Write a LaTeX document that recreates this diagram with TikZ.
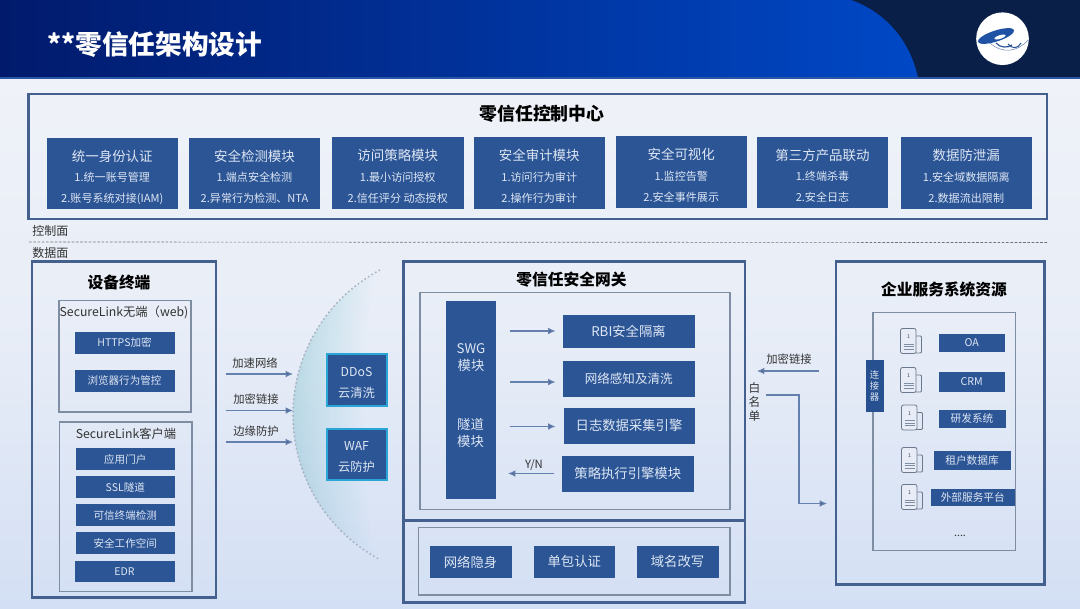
\documentclass[tikz,border=0pt]{standalone}
\usepackage{fontspec}
\setmainfont{Noto Sans CJK SC}
\usetikzlibrary{arrows.meta,calc}
\definecolor{bgtop}{HTML}{EFF2F8}
\definecolor{bgbot}{HTML}{D3DFF4}
\definecolor{boxblue}{HTML}{2C5596}
\definecolor{deepblue}{HTML}{26508F}
\definecolor{frame}{HTML}{44608F}
\definecolor{thin}{HTML}{7F8DA3}
\definecolor{txtw}{HTML}{DDE6F3}
\definecolor{arrowc}{HTML}{6480AE}
\definecolor{darknavy}{HTML}{0A1F48}
\definecolor{hleft}{HTML}{011A6C}
\definecolor{hright}{HTML}{0048C6}
\definecolor{cyanb}{HTML}{2AA6D6}
\definecolor{halo}{HTML}{9AD4E0}
\newcommand\fz[1]{\fontsize{#1}{#1}\selectfont}
\tikzset{
  rb/.style={draw=none,inner sep=0pt,outer sep=0pt,align=center},
  bluebox/.style={rb,fill=boxblue,text=txtw},
  cloudbox/.style={rb,fill=boxblue,text=txtw,draw=cyanb,line width=1.5pt},
  bigframe/.style={rb,fill=none,draw=frame,line width=1.6pt},
  thinframe/.style={rb,fill=none,draw=thin,line width=0.8pt},
  head/.style={font=\fz{11.8}\bfseries,text=black,inner sep=0pt},
  lbl/.style={font=\fz{8.5},text=black!80,inner sep=0pt,align=center},
  conn/.style={draw=arrowc,line width=0.8pt,-{Latex[length=5.5pt,width=5pt,fill=arrowc!85!black]}},
}
% \rbx[style]{name}{x1}{y1}{x2}{y2}{text}
\newcommand\rbx[7][]{%
  \pgfmathsetmacro\rw{(#5-#3)*0.75}\pgfmathsetmacro\rh{(#6-#4)*0.75}%
  \pgfmathsetmacro\rx{(#3+#5)/2}\pgfmathsetmacro\ry{(#4+#6)/2}%
  \node[#1,minimum width=\rw pt,minimum height=\rh pt] (#2) at (\rx,\ry) {#7};}
% three-line module box
\newcommand\modbox[8]{%
  \rbx[bluebox]{#1}{#2}{#3}{#4}{#5}{}
  \pgfmathsetmacro\rx{(#2+#4)/2}%
  \node[font=\fz{10.1},text=txtw,inner sep=0pt] (#1a) at (\rx,#3+18.5) {#6};
  \node[font=\fz{8.3},text=txtw,inner sep=0pt] (#1b) at (\rx,#3+40) {#7};
  \node[font=\fz{8.3},text=txtw,inner sep=0pt] (#1c) at (\rx,#3+61) {#8};}
\newcommand\docicon[3]{% name, left x, centre y
  \begin{scope}[shift={(#2,#3)},draw=thin!85!black,line width=0.6pt]
    \draw[rounded corners=0.8pt] (15,-5) -- (21,-5) -- (21,12) -- (15,12);
    \draw[rounded corners=1.5pt,fill=bgtop!70!bgbot] (0,-12.5) rectangle (15.5,12.5);
    \node[font=\fz{4},text=black!70,inner sep=0pt] (#1) at (8,-4) {1};
    \draw[line width=0.4pt,draw=thin] (3,3) -- (13,3) (3,5.5) -- (13,5.5) (3,8) -- (13,8);
  \end{scope}}
\begin{document}
\begin{tikzpicture}[x=0.75pt,y=-0.75pt]
\useasboundingbox (0,0) rectangle (1080,608);
% backgrounds
\shade[top color=bgtop,bottom color=bgbot,middle color=bgtop!72!bgbot] (0,77) rectangle (1080,608);
\fill[darknavy] (0,0) rectangle (1080,78);
\begin{scope}
  \clip (0,0) -- (851,0) .. controls (885,12) and (910,40) .. (918,78) -- (0,78) -- cycle;
  \shade[left color=hleft,right color=hright] (0,0) rectangle (918,78);
\end{scope}
\draw[draw=frame!60!hright,line width=0.8pt] (0,78) -- (1080,78);
\node[font=\fz{20}\bfseries,text=white,inner sep=0pt,anchor=west] (title) at (47,45) {**零信任架构设计};
% logo
\node[circle,fill=white,minimum size=39.5pt,inner sep=0pt] (logo) at (1002.5,38.7) {};
\begin{scope}
  \fill[boxblue!70!hright,rotate around={18:(996,36)}] (996,36) ellipse [x radius=19,y radius=5.5];
  \fill[white,rotate around={18:(1000,37)}] (1000,37) ellipse [x radius=6,y radius=1.8];
  \fill[white,rotate around={18:(1011,42)}] (1011,42) ellipse [x radius=3.5,y radius=1.2];
  \draw[boxblue,line width=0.9pt] (996,43) .. controls (1000,48) and (1008,48) .. (1012,45);
  \draw[boxblue,line width=0.8pt] (1008,44) .. controls (1012,49) and (1018,49) .. (1021,43);
  \draw[boxblue!70!white,line width=0.4pt] (990,43) .. controls (1002,54) and (1018,52) .. (1028,40);
\end{scope}
% control centre
\rbx[bigframe]{ctrl}{28.5}{94}{1047}{219}{}
\node[head,font=\fz{13.4}\bfseries] (ctrlt) at (542,114) {零信任控制中心};
\modbox{m1}{46.5}{137.5}{178}{209}{统一身份认证}{1.统一账号管理}{2.账号系统对接(IAM)}
\modbox{m2}{189}{137.5}{320}{209}{安全检测模块}{1.端点安全检测}{2.异常行为检测、NTA}
\modbox{m3}{332}{137}{463.5}{209}{访问策略模块}{1.最小访问授权}{2.信任评分 动态授权}
\modbox{m4}{473.5}{137}{605}{209}{安全审计模块}{1.访问行为审计}{2.操作行为审计}
\modbox{m5}{616}{136}{746.5}{207.5}{安全可视化}{1.监控告警}{2.安全事件展示}
\modbox{m6}{757}{136.5}{888}{208}{第三方产品联动}{1.终端杀毒}{2.安全日志}
\modbox{m7}{900.5}{137}{1032}{208.5}{数据防泄漏}{1.安全域数据隔离}{2.数据流出限制}
% plane separator
\node[lbl,font=\fz{9},anchor=west] (cp) at (32,231) {控制面};
\node[lbl,font=\fz{9},anchor=west] (dp) at (32,253) {数据面};
\coordinate (sepl) at (29,242);
\coordinate (sepr) at (1047,242.5);
\draw[draw=black!55,line width=0.5pt,dash pattern=on 2pt off 1.2pt] (sepl) -- (sepr);
% halo: stacked translucent lenses inside the arc
\foreach \i in {0,...,17}{
  \pgfmathsetmacro\ha{60-2.2*\i}
  \pgfmathsetmacro\hw{70*(1-\i/18)^1.3}
  \pgfmathsetmacro\hpx{457-164*cos(\ha)}
  \pgfmathsetmacro\hcx{(293+\hw-0.25*\hpx)/0.75}
  \pgfmathsetmacro\hs{164*sin(\ha)}
  \fill[halo,opacity=0.036]
    ($(457,415)+(180-\ha:164)$) arc [start angle=180-\ha,end angle=180+\ha,radius=164]
    .. controls (\hcx,415-0.5*\hs) and (\hcx,415+0.5*\hs) .. cycle;
}
\draw[draw=thin!70!white,line width=1.1pt,dotted] (380,270) arc [start angle=242,end angle=118,radius=164];
% device terminal
\rbx[bigframe]{dev}{32}{261.5}{216}{597.5}{}
\node[head] (devt) at (119,282) {设备终端};
\rbx[thinframe]{web}{59}{300.5}{191}{412}{}
\node[lbl,font=\fz{9.2},anchor=center] (webt) at (124,312.5) {SecureLink无端（web)};
\rbx[bluebox,font=\fz{7.9}]{d1}{74.5}{332}{174.5}{353.5}{HTTPS加密}
\rbx[bluebox,font=\fz{7.9}]{d2}{74.5}{369.5}{174.5}{391.5}{浏览器行为管控}
\rbx[thinframe]{cli}{59.5}{422}{192}{591.5}{}
\node[lbl,font=\fz{9.2}] (clit) at (126,434) {SecureLink客户端};
\rbx[bluebox,font=\fz{7.9}]{d3}{75.5}{448}{175}{470}{应用门户}
\rbx[bluebox,font=\fz{7.9}]{d4}{75.5}{476}{175}{498}{SSL隧道}
\rbx[bluebox,font=\fz{7.9}]{d5}{75.5}{504}{175}{526}{可信终端检测}
\rbx[bluebox,font=\fz{7.9}]{d6}{75.5}{532}{175}{554}{安全工作空间}
\rbx[bluebox,font=\fz{7.9}]{d7}{74.5}{560.5}{174.5}{582}{EDR}
% edge arrows
\node[lbl] (l1) at (255,363) {加速网络};
\node[lbl] (l2) at (256,399.5) {加密链接};
\node[lbl] (l3) at (256,431) {边缘防护};
\foreach \n/\y in {1/374,2/410.5,3/442}{
  \coordinate (a\n s) at (225.5,\y);
  \coordinate (a\n e) at (293,\y);
  \draw[conn] (a\n s) -- (a\n e);
}
% cloud
\rbx[cloudbox]{ddos}{326.5}{354}{387}{405.5}{}
\node[font=\fz{9.2},text=txtw,inner sep=0pt] (ddost) at (356.5,371.5) {DDoS};
\node[font=\fz{9.2},text=txtw,inner sep=0pt] (ddosb) at (356.5,393) {云清洗};
\rbx[cloudbox]{waf}{326.5}{428.5}{387}{480}{}
\node[font=\fz{9.2},text=txtw,inner sep=0pt] (waft) at (356.5,445.5) {WAF};
\node[font=\fz{9.2},text=txtw,inner sep=0pt] (wafb) at (356.5,467) {云防护};
% gateway
\rbx[bigframe]{gw}{403.5}{261.5}{745}{602.5}{}
\node[head] (gwt) at (571.5,280) {零信任安全网关};
\rbx[thinframe]{gwi}{420}{292.5}{730}{509.5}{}
\rbx[bluebox]{swg}{445.5}{300.5}{495.5}{499}{}
\node[font=\fz{10},text=txtw,inner sep=0pt] (s1) at (471,349) {SWG};
\node[font=\fz{10},text=txtw,inner sep=0pt] (s2) at (471,365.5) {模块};
\node[font=\fz{10},text=txtw,inner sep=0pt] (s3) at (470.5,424) {隧道};
\node[font=\fz{10},text=txtw,inner sep=0pt] (s4) at (470.5,441) {模块};
\rbx[bluebox,font=\fz{10}]{g1}{562.5}{314.5}{694.5}{348}{RBI安全隔离}
\rbx[bluebox,font=\fz{9.4}]{g2}{563}{360.5}{694.5}{397}{网络感知及清洗}
\rbx[bluebox,font=\fz{10}]{g3}{563.5}{407.5}{694.5}{443.5}{日志数据采集引擎}
\rbx[bluebox,font=\fz{10}]{g4}{561.5}{455.5}{694}{491.5}{策略执行引擎模块}
\foreach \n/\y in {1/331,2/382,3/426.5}{
  \coordinate (b\n s) at (509.5,\y);
  \coordinate (b\n e) at (555.5,\y);
  \draw[conn] (b\n s) -- (b\n e);
}
\coordinate (b4s) at (554,473.5);
\coordinate (b4e) at (508,473.5);
\draw[conn] (b4s) -- (b4e);
\node[lbl,font=\fz{8.5}] (yn) at (534,465.5) {Y/N};
\coordinate (divl) at (404,520.5);
\coordinate (divr) at (744,520.5);
\draw[draw=frame,line width=1.6pt] (divl) -- (divr);
\rbx[thinframe]{gwb}{418.5}{527.5}{730}{595}{}
\rbx[bluebox,font=\fz{10}]{g5}{429.5}{546}{511.5}{578}{网络隐身}
\rbx[bluebox,font=\fz{10}]{g6}{533.5}{545.5}{615}{577.5}{单包认证}
\rbx[bluebox,font=\fz{10}]{g7}{636.5}{545.5}{718.5}{577.5}{域名改写}
% resources
\rbx[bigframe]{res}{836}{261.5}{1044.5}{584.5}{}
\node[head] (rest) at (944,289.5) {企业服务系统资源};
\rbx[thinframe]{resi}{873}{312.5}{1015.5}{550.5}{}
\rbx[rb,fill=deepblue]{conr}{865.5}{360}{883.5}{411.5}{}
\node[font=\fz{7},text=txtw,inner sep=0pt,align=center] (cr1) at (874.5,375) {连};
\node[font=\fz{7},text=txtw,inner sep=0pt,align=center] (cr2) at (874.5,386) {接};
\node[font=\fz{7},text=txtw,inner sep=0pt,align=center] (cr3) at (874.5,397) {器};
\docicon{i1}{900.5}{341}
\docicon{i2}{900.5}{380}
\docicon{i3}{901.5}{417.5}
\docicon{i4}{901.5}{460}
\docicon{i5}{901.5}{497}
\rbx[bluebox,font=\fz{8}]{r1}{938.5}{334}{1005}{351.5}{OA}
\rbx[bluebox,font=\fz{8}]{r2}{938.5}{371.5}{1005}{391.5}{CRM}
\rbx[bluebox,font=\fz{8}]{r3}{938.5}{410}{1005.5}{427.5}{研发系统}
\rbx[bluebox,font=\fz{8}]{r4}{933.5}{450.5}{1010.5}{470}{租户数据库}
\rbx[bluebox,font=\fz{8}]{r5}{931}{488.5}{1014.5}{506}{外部服务平台}
\node[lbl,font=\fz{8}] (dots) at (960,536) {....};
% right connectors
\node[lbl] (enc) at (789,359) {加密链接};
\coordinate (c1s) at (818.5,371);
\coordinate (c1e) at (757,371);
\draw[conn] (c1s) -- (c1e);
\node[lbl,font=\fontsize{8.8}{10.6}\selectfont] (wb) at (754.5,402) {白\\名\\单};
\coordinate (c2s) at (766,395);
\coordinate (c2e) at (827,503.5);
\draw[conn] (c2s) -- (799,395) -- (799,503.5) -- (c2e);
\end{tikzpicture}
\end{document}
